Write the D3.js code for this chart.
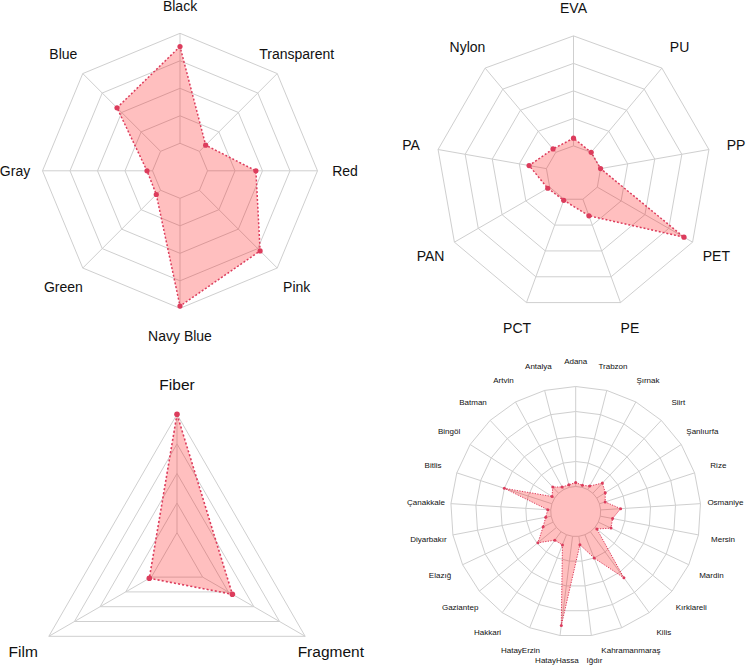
<!DOCTYPE html>
<html>
<head>
<meta charset="utf-8">
<script src="https://cdn.jsdelivr.net/npm/d3@7"></script>
<style>
  body { margin: 0; background: #fff; }
  svg { display: block; }
</style>
</head>
<body>
<div id="viz"></div>
<script>
var width = 746;
var height = 668;

// colour chart
var colorLabels = ["Black", "Blue", "Gray", "Green", "Navy Blue", "Pink", "Red", "Transparent"];
var colorValues = [88, 56, 5, 5.5, 98, 78, 44, 8];

// polymer chart
var polymerLabels = ["EVA", "Nylon", "PA", "PAN", "PCT", "PE", "PET", "PP", "PU"];
var polymerValues = [7, 4, 16, 2, 1, 16, 91, 0, 0];

// shape chart
var shapeLabels = ["Fiber", "Film", "Fragment"];
var shapeValues = [100, 2, 29];

// location chart
var siteLabels = ["Adana", "Antalya", "Artvin", "Batman", "Bingöl", "Bitlis", "Çanakkale",
  "Diyarbakır", "Elazığ", "Gaziantep", "Hakkari", "HatayErzin", "HatayHassa", "Iğdır",
  "Kahramanmaraş", "Kilis", "Kırklareli", "Mardin", "Mersin", "Osmaniye", "Rize",
  "Şanlıurfa", "Siirt", "Şırnak", "Trabzon"];
var siteValues = [4, 2.5, 3, 8.5, 3, 50, 3, 5.5, 11, 24, 10.5, 11, 90, 8.5,
  25, 57, 2.5, 14, 12.5, 20, 6, 10, 14, 4, 2];

var scaleMin = 0;
var scaleMax = 100;
var segments = 4;

var lineColor = "#dc3c5c";
var gridColor = "#cfcfcf";

var svg = d3.select("#viz")
  .append("svg")
    .attr("width", width)
    .attr("height", height)
    .style("background-color", "#ffffff");

//draws one radar panel, first axis at top, going counterclockwise
function radar(labels, values, cx, cy, R, fontSize, dotR, lineW) {
  var n = labels.length;
  var g = svg.append("g").attr("transform", "translate(" + cx + "," + cy + ")");

  // inner hole of 1/(seg+1), like fmsb
  var r = d3.scaleLinear().domain([scaleMin, scaleMax]).range([R / (segments + 1), R]);
  var angle = function(i) { return Math.PI / 2 + i * 2 * Math.PI / n; };
  var px = function(i, rad) { return rad * Math.cos(angle(i)); };
  var py = function(i, rad) { return -rad * Math.sin(angle(i)); };

  var levels = d3.range(1, segments + 2).map(function(k) { return R * k / (segments + 1); });

  g.selectAll("polygon.ring")
    .data(levels)
    .join("polygon")
      .attr("class", "ring")
      .attr("points", function(rad) {
        return d3.range(n).map(function(i) { return px(i, rad) + "," + py(i, rad); }).join(" ");
      })
      .attr("fill", "none")
      .attr("stroke", gridColor)
      .attr("stroke-width", 1);

  g.selectAll("line.spoke")
    .data(d3.range(n))
    .join("line")
      .attr("class", "spoke")
      .attr("x1", function(i) { return px(i, R / (segments + 1)); })
      .attr("y1", function(i) { return py(i, R / (segments + 1)); })
      .attr("x2", function(i) { return px(i, R); })
      .attr("y2", function(i) { return py(i, R); })
      .attr("stroke", gridColor)
      .attr("stroke-width", 1);

  g.append("polygon")
    .attr("points", values.map(function(v, i) { return px(i, r(v)) + "," + py(i, r(v)); }).join(" "))
    .attr("fill", "rgba(255,0,0,0.25)")
    .attr("stroke", lineColor)
    .attr("stroke-width", lineW)
    .attr("stroke-dasharray", (lineW * 1.3) + "," + (lineW * 1.3));

  g.selectAll("circle")
    .data(values)
    .join("circle")
      .attr("cx", function(v, i) { return px(i, r(v)); })
      .attr("cy", function(v, i) { return py(i, r(v)); })
      .attr("r", dotR)
      .attr("fill", lineColor);

  g.selectAll("text")
    .data(labels)
    .join("text")
      .attr("x", function(d, i) { return px(i, R * 1.2); })
      .attr("y", function(d, i) { return py(i, R * 1.2); })
      .attr("text-anchor", "middle")
      .attr("dominant-baseline", "central")
      .style("font-family", "'Liberation Sans', Arial, sans-serif")
      .style("font-size", fontSize + "px")
      .attr("fill", "#111")
      .text(function(d) { return d; });
}

radar(colorLabels, colorValues, 180, 170.8, 137.5, 14, 2.6, 1.5);
radar(polymerLabels, polymerValues, 573.5, 173.4, 137.5, 14, 2.6, 1.5);
radar(shapeLabels, shapeValues, 177, 562.3, 148, 15.5, 2.8, 1.6);
radar(siteLabels, siteValues, 575.7, 511.5, 125, 8, 1.5, 1);
</script>
</body>
</html>
